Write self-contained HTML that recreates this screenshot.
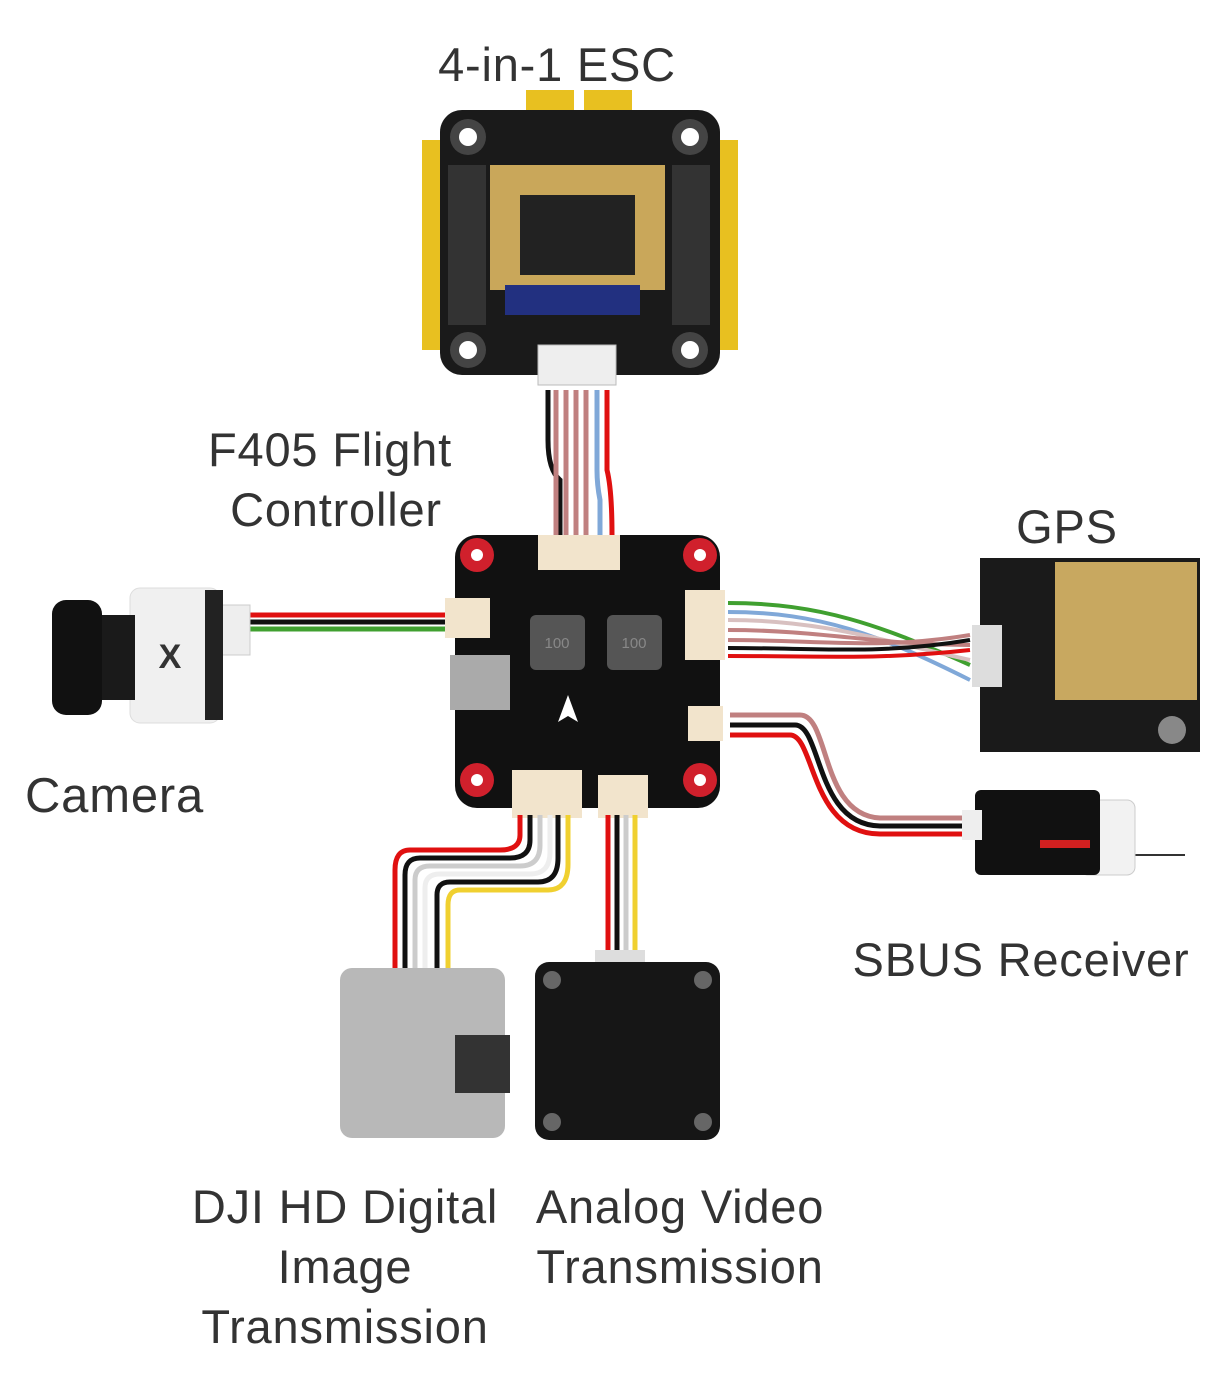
<!DOCTYPE html>
<html><head><meta charset="utf-8"><style>
html,body{margin:0;padding:0;background:#fff;}
svg{display:block;}
.t{font-family:"Liberation Sans",sans-serif;fill:#333;font-size:47px;letter-spacing:0.8px;}
</style></head><body>
<svg width="1212" height="1373" viewBox="0 0 1212 1373" xmlns="http://www.w3.org/2000/svg">
<!-- labels -->
<text class="t" x="557" y="81" text-anchor="middle">4-in-1 ESC</text>
<text class="t" x="330" y="466" text-anchor="middle">F405 Flight</text>
<text class="t" x="336" y="526" text-anchor="middle">Controller</text>
<text class="t" x="1067" y="543" text-anchor="middle">GPS</text>
<text class="t" x="25" y="812" style="font-size:49px">Camera</text>
<text class="t" x="1021" y="976" text-anchor="middle">SBUS Receiver</text>
<text class="t" x="345" y="1223" text-anchor="middle">DJI HD Digital</text>
<text class="t" x="345" y="1283" text-anchor="middle">Image</text>
<text class="t" x="345" y="1343" text-anchor="middle">Transmission</text>
<text class="t" x="680" y="1223" text-anchor="middle">Analog Video</text>
<text class="t" x="680" y="1283" text-anchor="middle">Transmission</text>

<!-- ESC -->
<rect x="526" y="90" width="48" height="30" fill="#e8c020"/>
<rect x="584" y="90" width="48" height="30" fill="#e8c020"/>
<rect x="422" y="140" width="20" height="210" fill="#e8c020"/>
<rect x="718" y="140" width="20" height="210" fill="#e8c020"/>
<rect x="440" y="110" width="280" height="265" rx="22" fill="#1a1a1a"/>
<circle cx="468" cy="137" r="18" fill="#444"/><circle cx="468" cy="137" r="9" fill="#fff"/>
<circle cx="690" cy="137" r="18" fill="#444"/><circle cx="690" cy="137" r="9" fill="#fff"/>
<circle cx="468" cy="350" r="18" fill="#444"/><circle cx="468" cy="350" r="9" fill="#fff"/>
<circle cx="690" cy="350" r="18" fill="#444"/><circle cx="690" cy="350" r="9" fill="#fff"/>
<rect x="490" y="165" width="175" height="125" fill="#c9a75a"/>
<rect x="520" y="195" width="115" height="80" fill="#222"/>
<rect x="505" y="285" width="135" height="30" fill="#223080"/>
<rect x="448" y="165" width="38" height="160" fill="#333"/>
<rect x="672" y="165" width="38" height="160" fill="#333"/>
<rect x="538" y="345" width="78" height="40" fill="#eee" stroke="#bbb"/>
<!-- ESC wires -->
<g fill="none" stroke-width="5">
<path d="M548 390 V440 Q548 470 560 480 V535" stroke="#111"/>
<path d="M556 390 V535" stroke="#c08080"/>
<path d="M566 390 V535" stroke="#c08080"/>
<path d="M576 390 V535" stroke="#c08080"/>
<path d="M586 390 V535" stroke="#c08080"/>
<path d="M597 390 V470 Q597 485 600 500 V535" stroke="#80a8d8"/>
<path d="M607 390 V470 Q612 490 612 535" stroke="#e01010"/>
</g>

<!-- FC -->
<rect x="455" y="535" width="265" height="273" rx="22" fill="#111"/>
<circle cx="477" cy="555" r="17" fill="#d0202c"/><circle cx="477" cy="555" r="6" fill="#fff"/>
<circle cx="700" cy="555" r="17" fill="#d0202c"/><circle cx="700" cy="555" r="6" fill="#fff"/>
<circle cx="477" cy="780" r="17" fill="#d0202c"/><circle cx="477" cy="780" r="6" fill="#fff"/>
<circle cx="700" cy="780" r="17" fill="#d0202c"/><circle cx="700" cy="780" r="6" fill="#fff"/>
<rect x="538" y="535" width="82" height="35" fill="#f2e4cc"/>
<rect x="530" y="615" width="55" height="55" rx="6" fill="#555"/>
<rect x="607" y="615" width="55" height="55" rx="6" fill="#555"/>
<text x="557" y="648" text-anchor="middle" style="font-family:'Liberation Sans',sans-serif;font-size:15px;fill:#888">100</text>
<text x="634" y="648" text-anchor="middle" style="font-family:'Liberation Sans',sans-serif;font-size:15px;fill:#888">100</text>
<rect x="450" y="655" width="60" height="55" fill="#aaa"/>
<rect x="445" y="598" width="45" height="40" fill="#f2e4cc"/>
<rect x="685" y="590" width="40" height="70" fill="#f2e4cc"/>
<rect x="688" y="706" width="35" height="35" fill="#f2e4cc"/>
<rect x="512" y="770" width="70" height="48" fill="#f2e4cc"/>
<rect x="598" y="775" width="50" height="43" fill="#f2e4cc"/>
<polygon points="568,695 578,722 568,716 558,722" fill="#fff"/>

<!-- camera wires -->
<g fill="none" stroke-width="5">
<path d="M248 615 H445" stroke="#e01010"/>
<path d="M248 622 H445" stroke="#111"/>
<path d="M248 629 H445" stroke="#40a030"/>
</g>
<!-- camera -->
<rect x="220" y="605" width="30" height="50" fill="#eee" stroke="#ccc"/>
<rect x="130" y="588" width="90" height="135" rx="10" fill="#f0f0f0" stroke="#ddd"/>
<rect x="205" y="590" width="18" height="130" fill="#222"/>
<text x="170" y="668" text-anchor="middle" style="font-family:'Liberation Sans',sans-serif;font-size:34px;fill:#333;font-weight:bold">X</text>
<rect x="95" y="615" width="40" height="85" fill="#1a1a1a"/>
<rect x="52" y="600" width="50" height="115" rx="14" fill="#111"/>

<!-- GPS wires -->
<g fill="none" stroke-width="4">
<path d="M728 603 C820 603 880 625 970 665" stroke="#40a030"/>
<path d="M728 612 C820 612 880 635 970 680" stroke="#80a8d8"/>
<path d="M728 620 C820 620 880 640 970 660" stroke="#d8c0c0"/>
<path d="M728 630 C820 630 880 645 970 645" stroke="#c08080"/>
<path d="M728 640 C820 640 880 650 970 635" stroke="#c08080"/>
<path d="M728 648 C820 648 880 655 970 640" stroke="#111"/>
<path d="M728 656 C820 656 880 660 970 650" stroke="#e01010"/>
</g>
<rect x="980" y="558" width="220" height="194" fill="#1a1a1a"/>
<rect x="1055" y="562" width="142" height="138" fill="#c8a860"/>
<rect x="972" y="625" width="30" height="62" fill="#ddd"/>
<circle cx="1172" cy="730" r="14" fill="#888"/>

<!-- SBUS wires -->
<g fill="none" stroke-width="5">
<path d="M730 715 H800 C830 715 820 815 880 818 H965" stroke="#c08080"/>
<path d="M730 725 H795 C822 725 815 825 880 826 H965" stroke="#111"/>
<path d="M730 735 H790 C815 735 810 834 880 834 H965" stroke="#e01010"/>
</g>
<path d="M1120 855 H1185" stroke="#333" stroke-width="2"/>
<rect x="1080" y="800" width="55" height="75" rx="8" fill="#f2f2f2" stroke="#ccc"/>
<rect x="975" y="790" width="125" height="85" rx="6" fill="#111"/>
<rect x="962" y="810" width="20" height="30" fill="#eee"/>
<rect x="1040" y="840" width="50" height="8" fill="#d02020"/>

<!-- DJI wires -->
<g fill="none" stroke-width="5">
<path d="M520 815 V835 Q520 850 500 850 H410 Q395 850 395 870 V970" stroke="#e01010"/>
<path d="M530 815 V840 Q530 858 510 858 H420 Q405 858 405 875 V970" stroke="#111"/>
<path d="M540 815 V845 Q540 866 520 866 H430 Q415 866 415 880 V970" stroke="#ccc"/>
<path d="M550 815 V852 Q550 874 530 874 H440 Q425 874 425 888 V970" stroke="#eeeeee"/>
<path d="M558 815 V858 Q558 882 538 882 H450 Q437 882 437 895 V970" stroke="#111"/>
<path d="M568 815 V864 Q568 890 548 890 H460 Q448 890 448 905 V970" stroke="#f0d030"/>
</g>
<rect x="340" y="968" width="165" height="170" rx="12" fill="#b8b8b8"/>
<rect x="455" y="1035" width="55" height="58" fill="#333"/>

<!-- VTX wires -->
<g fill="none" stroke-width="5">
<path d="M608 815 V955" stroke="#e01010"/>
<path d="M617 815 V955" stroke="#111"/>
<path d="M626 815 V955" stroke="#ccc"/>
<path d="M635 815 V955" stroke="#f0d030"/>
</g>
<rect x="595" y="950" width="50" height="15" fill="#ddd"/>
<rect x="535" y="962" width="185" height="178" rx="14" fill="#161616"/>
<circle cx="552" cy="980" r="9" fill="#666"/><circle cx="703" cy="980" r="9" fill="#666"/>
<circle cx="552" cy="1122" r="9" fill="#666"/><circle cx="703" cy="1122" r="9" fill="#666"/>
</svg>
</body></html>
